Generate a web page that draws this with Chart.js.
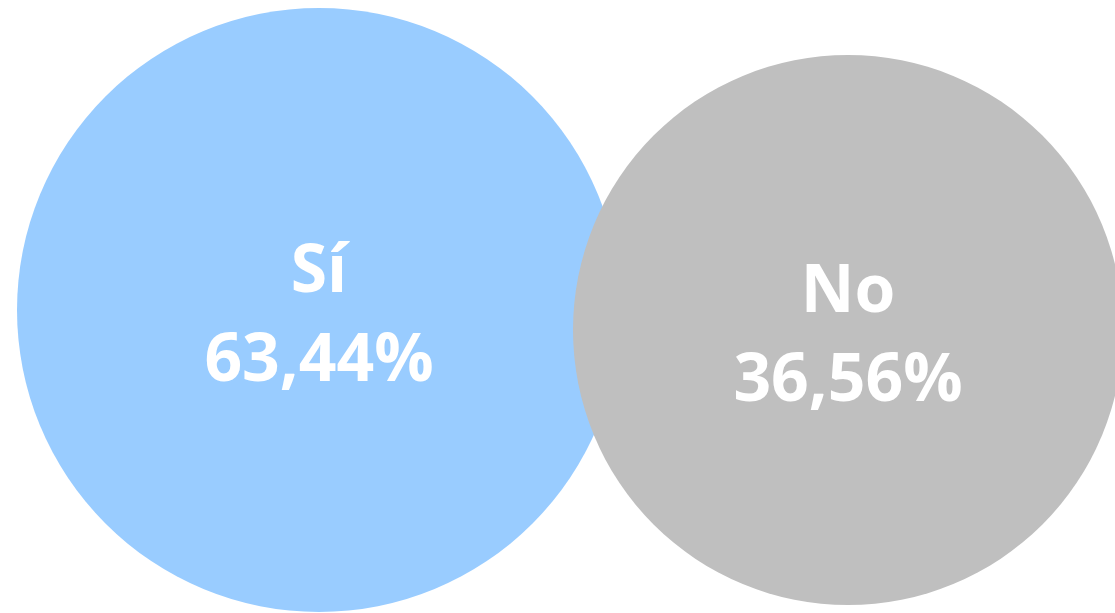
<!DOCTYPE html>
<html>
<head>
<meta charset="utf-8">
<script src="https://cdn.jsdelivr.net/npm/chart.js@4.4.1/dist/chart.umd.min.js"></script>
<style>
    html, body { margin: 0; padding: 0; background: #ffffff; }
    #wrap { position: relative; width: 1115px; height: 613px; }
</style>
</head>
<body>
<div id="wrap"><canvas id="chart"></canvas></div>
<script>
// answers and their share of responses
const answers = ['Sí', 'No'];
const shares = [63.44, 36.56];

// bubble centres and radii, in chart value units
const xPos = [319, 848];
const yPos = [310, 330];
const radii = [302, 275];

const colors = ['#99CCFF', '#BFBFBF'];

const formatShare = v => v.toFixed(2).replace('.', ',') + '%';

// write the answer and its share inside each bubble
const bubbleLabels = {
    id: 'bubbleLabels',
    afterDatasetsDraw(chart) {
        const ctx = chart.ctx;
        const meta = chart.getDatasetMeta(0);
        ctx.save();
        ctx.fillStyle = '#ffffff';
        ctx.font = 'bold 66px "Open Sans"';
        ctx.textAlign = 'center';
        ctx.textBaseline = 'alphabetic';
        meta.data.forEach((el, i) => {
            ctx.fillText(answers[i], el.x, el.y - 18);
            ctx.fillText(formatShare(shares[i]), el.x, el.y + 71);
        });
        ctx.restore();
    }
};

const chart = new Chart(document.getElementById('chart'), {
    type: 'bubble',
    data: {
        labels: answers,
        datasets: [{
            data: answers.map((a, i) => ({ x: xPos[i], y: yPos[i], r: 1 })),
            backgroundColor: colors,
            borderWidth: 0,
            clip: false
        }]
    },
    options: {
        responsive: true,
        maintainAspectRatio: false,
        animation: false,
        events: [],
        layout: { padding: 0, autoPadding: false },
        plugins: {
            legend: { display: false },
            tooltip: { enabled: false }
        },
        scales: {
            x: { type: 'linear', min: 0, max: 1115, display: false },
            y: { type: 'linear', min: 0, max: 613, reverse: true, display: false }
        }
    },
    plugins: [bubbleLabels]
});

// bubble radius is given in pixels, so turn value units into pixels with the x scale
const xs = chart.scales.x;
chart.data.datasets[0].data.forEach((p, i) => {
    p.r = xs.getPixelForValue(radii[i]) - xs.getPixelForValue(0);
});
chart.update();
</script>
</body>
</html>
